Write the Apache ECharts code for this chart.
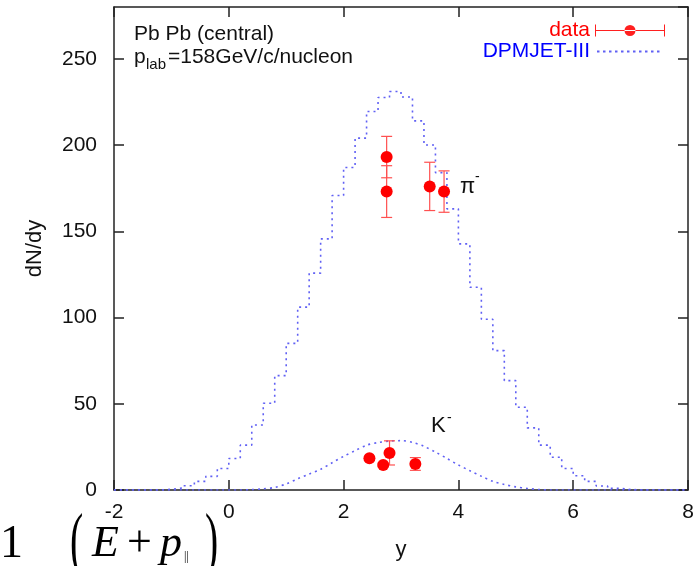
<!DOCTYPE html>
<html>
<head>
<meta charset="utf-8">
<script src="https://cdn.jsdelivr.net/npm/echarts@6/dist/echarts.min.js"></script>
<style>
html, body { margin: 0; padding: 0; background: #fff; }
#main { width: 700px; height: 566px; }
</style>
</head>
<body>
<div id="main"></div>
<script>
// DPMJET-III pi- : bin edges (y) and dN/dy per bin
var piEdges = [-2.0, -1.8, -1.6, -1.4, -1.2, -1.0, -0.8, -0.6, -0.4, -0.2,
               0.0, 0.2, 0.4, 0.6, 0.8, 1.0, 1.2, 1.4, 1.6, 1.8,
               2.0, 2.2, 2.4, 2.6, 2.8, 3.0, 3.2, 3.4, 3.6, 3.8,
               4.0, 4.2, 4.4, 4.6, 4.8, 5.0, 5.2, 5.4, 5.6, 5.8,
               6.0, 6.2, 6.4, 6.6, 6.8, 7.0, 7.2, 7.4, 7.6, 7.8, 8.0];
var piHist = [0, 0, 0, 0, 0.4, 1.2, 2.5, 5, 7.9, 12.5,
              18.3, 26, 37.7, 50.3, 66.3, 85, 106, 125.7, 145.6, 170.7,
              187, 204, 219.4, 227.5, 231, 227.8, 214, 200, 184, 163,
              142.7, 117.5, 99, 80.8, 63.4, 48, 36, 26, 19, 12.5,
              8.3, 5, 2.3, 1, 0.3, 0, 0, 0, 0, 0];

// DPMJET-III K- curve
var kCurveX = [-2, 0.2, 0.4, 0.6, 0.8, 1.0, 1.2, 1.4, 1.6, 1.8, 2.0, 2.2, 2.4, 2.6, 2.8, 3.0,
               3.2, 3.4, 3.6, 3.8, 4.0, 4.2, 4.4, 4.6, 4.8, 5.0, 5.2, 5.4, 5.6, 8];
var kCurveY = [0, 0, 0.2, 0.7, 1.5, 3.5, 6.5, 9.2, 12, 15.8, 19.5, 22.8, 26, 27.5, 28.4, 28.6,
               27.6, 25.3, 22, 18.3, 14.5, 11.2, 8, 5, 3.2, 1.8, 0.9, 0.3, 0, 0];

// measured data
var piX = [2.75, 2.75, 3.5, 3.75];
var piY = [193, 173, 176, 173];
var piErr = [12, 15, 14, 12];
var kX = [2.45, 2.69, 2.8, 3.25];
var kY = [18.4, 14.5, 21.5, 15.1];
var kErr = [1, 1, 7, 3.7];

var blue = '#6060f4';
var font = 'Liberation Sans';

var histData = piHist.map(function (v, i) { return [piEdges[i], v]; });
histData.push([piEdges[piEdges.length - 1], piHist[piHist.length - 1]]);
var kCurve = kCurveX.map(function (x, i) { return [x, kCurveY[i]]; });

var points = [];
piX.forEach(function (x, i) { points.push([x, piY[i], piErr[i]]); });
kX.forEach(function (x, i) { points.push([x, kY[i], kErr[i]]); });

// legend icons
var errIcon = 'path://M0,0h1v12h-1Z M69,0h1v12h-1Z M0,5.5h70v1h-70Z M29.5,6a5.5,5.5 0 1,0 11,0a5.5,5.5 0 1,0 -11,0Z';
var dotIcon = 'path://M0,0L0,0Z M70,12L70,12Z';
for (var d = 2; d < 66; d += 6) {
    dotIcon += ' M' + d + ',5h2.5v2h-2.5Z';
}

var chart = echarts.init(document.getElementById('main'));

var axisCommon = {
    type: 'value',
    axisLine: { onZero: false, lineStyle: { color: '#222', width: 1.5 } },
    axisTick: { inside: true, length: 10, lineStyle: { color: '#222', width: 1.5 } },
    splitLine: { show: false }
};

var serif = 'Liberation Serif';

var option = {
    animation: false,
    grid: { left: 114, right: 12, top: 7, bottom: 75 },
    xAxis: [
        Object.assign({}, axisCommon, {
            min: -2, max: 8, interval: 2, position: 'bottom',
            axisLabel: { fontFamily: font, fontSize: 21, color: '#111', margin: 12 },
            name: 'y', nameLocation: 'middle', nameGap: 49,
            nameTextStyle: { fontFamily: font, fontSize: 22, color: '#111' }
        }),
        Object.assign({}, axisCommon, {
            min: -2, max: 8, interval: 2, position: 'top',
            axisLabel: { show: false }
        })
    ],
    yAxis: [
        Object.assign({}, axisCommon, {
            min: 0, max: 280, interval: 50, position: 'left',
            axisLabel: { fontFamily: font, fontSize: 21, color: '#111', margin: 17, showMaxLabel: false },
            name: 'dN/dy', nameLocation: 'middle', nameGap: 68,
            nameTextStyle: { fontFamily: font, fontSize: 22, color: '#111' }
        }),
        Object.assign({}, axisCommon, {
            min: 0, max: 280, interval: 50, position: 'right',
            axisLabel: { show: false }
        })
    ],
    legend: {
        orient: 'vertical',
        right: 30, top: 15,
        align: 'right',
        itemWidth: 70, itemHeight: 12, itemGap: 0,
        selectedMode: false,
        textStyle: { fontFamily: font, fontSize: 21 },
        data: [
            { name: 'data', icon: errIcon, textStyle: { color: '#ff0000' }, itemStyle: { color: '#ff2020' } },
            { name: 'DPMJET-III', icon: dotIcon, textStyle: { color: '#0000ff' }, itemStyle: { color: blue } }
        ]
    },
    graphic: [
        { type: 'text', left: 134, top: 24, style: { text: 'Pb Pb (central)', font: '21px ' + font, fill: '#111' } },
        { type: 'text', left: 134, top: 47, style: { text: 'p', font: '21px ' + font, fill: '#111' } },
        { type: 'text', left: 146, top: 57, style: { text: 'lab', font: '15px ' + font, fill: '#111' } },
        { type: 'text', left: 168, top: 47, style: { text: '=158GeV/c/nucleon', font: '21px ' + font, fill: '#111' } },
        { type: 'text', left: 460, top: 176, style: { text: 'π', font: '22px ' + font, fill: '#111' } },
        { type: 'text', left: 475, top: 170, style: { text: '-', font: '14px ' + font, fill: '#111' } },
        { type: 'text', left: 431, top: 415, style: { text: 'K', font: '22px ' + font, fill: '#111' } },
        { type: 'text', left: 447, top: 411, style: { text: '-', font: '14px ' + font, fill: '#111' } },
        { type: 'text', left: 0, top: 522, style: { text: '1', font: '46px ' + serif, fill: '#000' } },
        { type: 'text', left: 70, top: 508, scaleX: 0.55, style: { text: '(', font: '72px ' + serif, fill: '#000' } },
        { type: 'text', left: 92, top: 522, style: { text: 'E', font: 'italic 44px ' + serif, fill: '#000' } },
        { type: 'text', left: 127, top: 522, style: { text: '+', font: '44px ' + serif, fill: '#000' } },
        { type: 'text', left: 160, top: 522, style: { text: 'p', font: 'italic 44px ' + serif, fill: '#000' } },
        { type: 'text', left: 184, top: 551, style: { text: '||', font: '12px ' + serif, fill: '#000' } },
        { type: 'text', left: 205, top: 508, scaleX: 0.55, style: { text: ')', font: '72px ' + serif, fill: '#000' } }
    ],
    series: [
        {
            name: 'DPMJET-III',
            type: 'line',
            step: 'end',
            data: histData,
            symbol: 'none',
            itemStyle: { color: blue },
            lineStyle: { color: blue, width: 1.6, type: [2, 4] },
            z: 2
        },
        {
            name: 'DPMJET-III',
            type: 'line',
            smooth: 0.3,
            data: kCurve,
            symbol: 'none',
            itemStyle: { color: blue },
            lineStyle: { color: blue, width: 1.6, type: [2, 4] },
            z: 2
        },
        {
            name: 'data',
            type: 'custom',
            data: points,
            itemStyle: { color: '#ff2020' },
            renderItem: function (params, api) {
                var x = api.value(0), y = api.value(1), e = api.value(2);
                var top = api.coord([x, y + e]);
                var bot = api.coord([x, y - e]);
                var hw = 5.5;
                var st = { stroke: '#ff5050', lineWidth: 1.2 };
                return {
                    type: 'group',
                    children: [
                        { type: 'line', shape: { x1: top[0], y1: top[1], x2: bot[0], y2: bot[1] }, style: st },
                        { type: 'line', shape: { x1: top[0] - hw, y1: top[1], x2: top[0] + hw, y2: top[1] }, style: st },
                        { type: 'line', shape: { x1: bot[0] - hw, y1: bot[1], x2: bot[0] + hw, y2: bot[1] }, style: st }
                    ]
                };
            },
            z: 3
        },
        {
            name: 'data',
            type: 'scatter',
            data: points.map(function (p) { return [p[0], p[1]]; }),
            symbol: 'circle',
            symbolSize: 12,
            itemStyle: { color: '#ff0000', opacity: 1 },
            z: 4
        }
    ]
};

chart.setOption(option);
</script>
</body>
</html>
